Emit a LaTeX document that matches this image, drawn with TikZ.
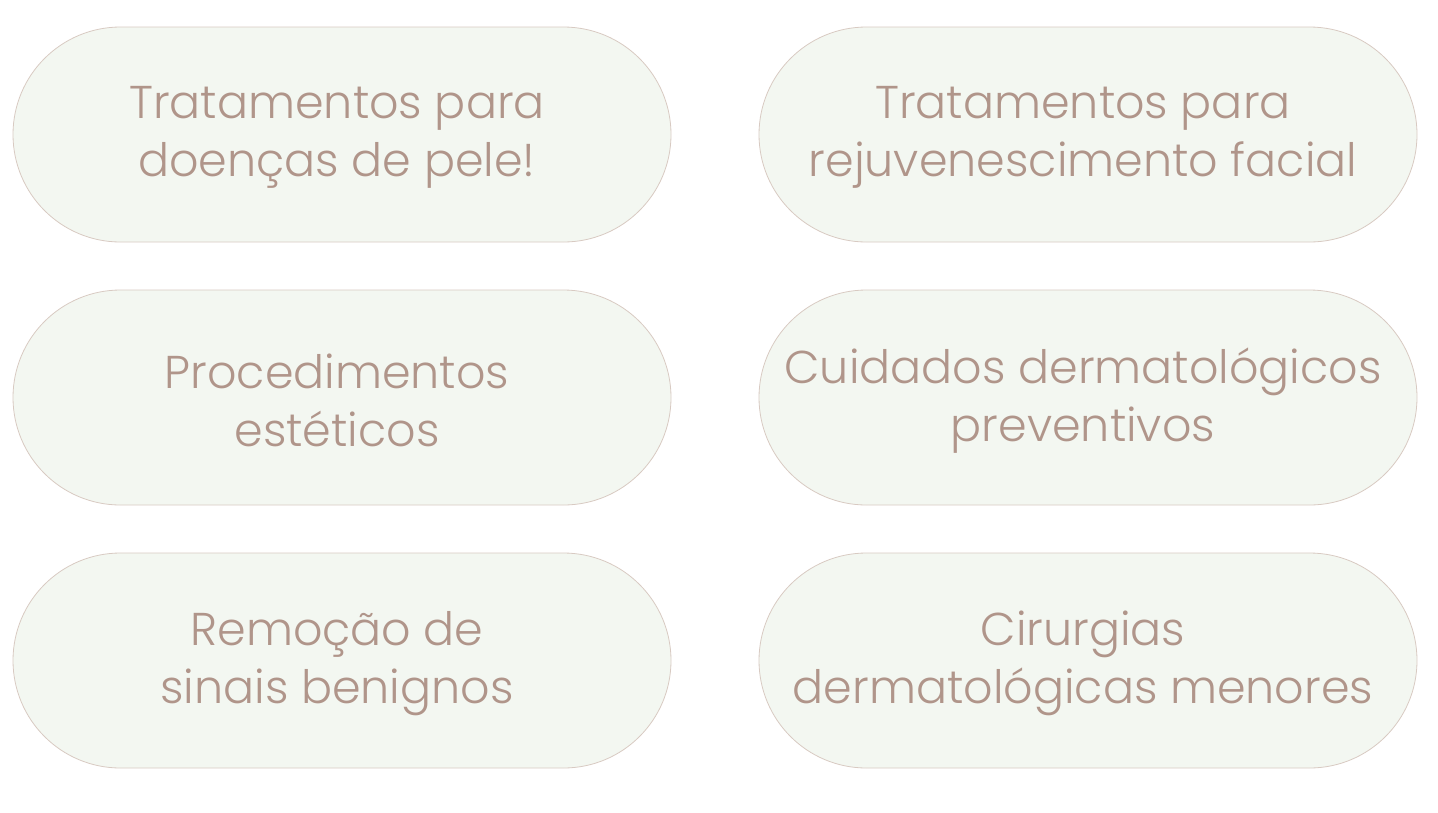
\documentclass[tikz,border=0pt]{standalone}
\usepackage{fontspec}
\setmainfont{Poppins}[UprightFont=* Light]
\definecolor{pillfill}{HTML}{F3F7F1}
\definecolor{pillline}{HTML}{D8CAC2}
\definecolor{pilltext}{HTML}{B0958A}
\begin{document}
\begin{tikzpicture}[x=1pt,y=-1pt,
  pill/.style={draw=pillline, line width=0.8pt, fill=pillfill, rounded corners=107.5pt,
    minimum width=658pt, minimum height=215pt, inner sep=0pt},
  pilltxt/.style={text=pilltext, align=center, inner sep=0pt,
    font=\fontsize{46}{58}\selectfont, xshift=-5pt, yshift=-3pt}]
\useasboundingbox (0,0) rectangle (1438,812);
\node[pill, label={[pilltxt]center:Tratamentos para\\doenças de pele!}] (a) at (342,134.5) {};
\node[pill, label={[pilltxt]center:Tratamentos para\\rejuvenescimento facial}] (b) at (1088,134.5) {};
\node[pill, label={[pilltxt]center:Procedimentos\\estéticos}] (c) at (342,397.5) {};
\node[pill, label={[pilltxt]center:Cuidados dermatológicos\\preventivos}] (d) at (1088,397.5) {};
\node[pill, label={[pilltxt]center:Remoção de\\sinais benignos}] (e) at (342,660.5) {};
\node[pill, label={[pilltxt]center:Cirurgias\\dermatológicas menores}] (f) at (1088,660.5) {};
\end{tikzpicture}
\end{document}
